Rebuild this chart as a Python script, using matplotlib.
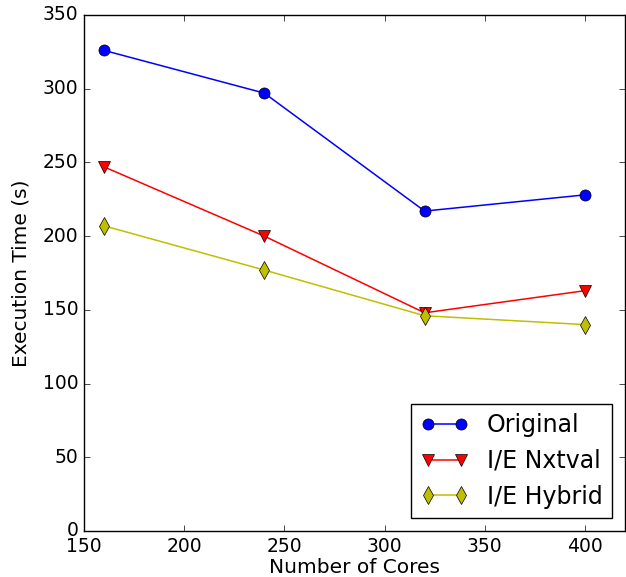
import matplotlib
matplotlib.use("Agg")
import matplotlib.pyplot as plt

plt.style.use('classic')

cores = [160, 240, 320, 400]
original = [326, 297, 217, 228]
ie_nxtval = [247, 200, 148, 163]
ie_hybrid = [207, 177, 146, 140]

fig = plt.figure(figsize=(6.26, 5.77), dpi=100, facecolor='white')
ax = fig.add_axes([84/626, 1-531/577, (625-84)/626, (531-15)/577])

ax.plot(cores, original, 'b-o', markersize=8, linewidth=1.1, label='Original')
ax.plot(cores, ie_nxtval, 'r-v', markersize=8, linewidth=1.1, label='I/E Nxtval')
ax.plot(cores, ie_hybrid, 'y-d', markersize=9, linewidth=1.1, label='I/E Hybrid')

ax.set_xlim(150, 420)
ax.set_ylim(0, 350)
ax.set_xticks([150, 200, 250, 300, 350, 400])
ax.set_yticks([0, 50, 100, 150, 200, 250, 300, 350])
ax.tick_params(labelsize=13.5)
ax.set_xlabel('Number of Cores', fontsize=14.5, labelpad=2)
ax.set_ylabel('Execution Time (s)', fontsize=14.5, labelpad=9)
ax.legend(loc='lower right', fontsize=17, numpoints=2, borderaxespad=0.55)

fig.savefig('out.png', dpi=100, facecolor='white')
